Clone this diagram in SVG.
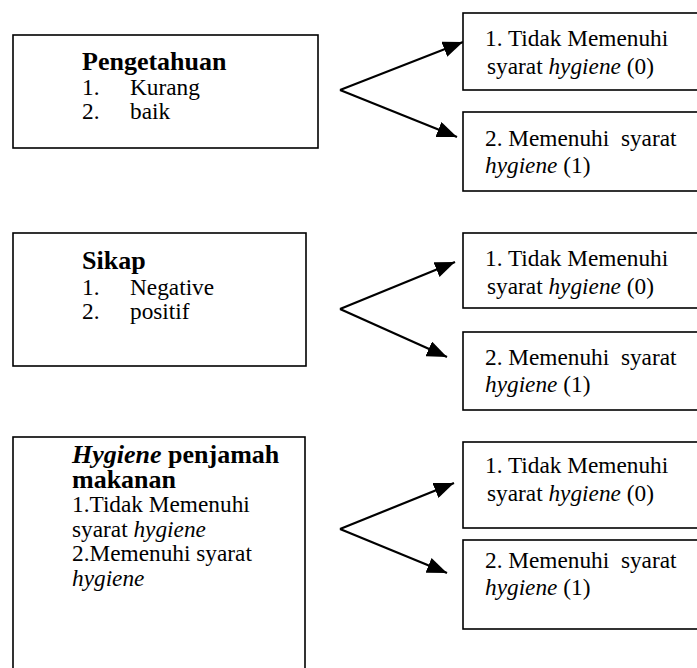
<svg xmlns="http://www.w3.org/2000/svg" width="697" height="668" viewBox="0 0 697 668">
<style>
.box{fill:#fff;stroke:#000;stroke-width:1.6}
.t{font-family:"Liberation Serif","Times New Roman",serif;font-size:23.3px;fill:#000}
.h{font-family:"Liberation Serif","Times New Roman",serif;font-size:26px;font-weight:bold;fill:#000}
.i{font-style:italic}
.c{stroke:#000;stroke-width:2.2;fill:none;marker-end:url(#ah)}
</style>
<defs>
<marker id="ah" markerUnits="userSpaceOnUse" markerWidth="20" markerHeight="16" refX="20" refY="8" orient="auto">
<path d="M0,0 L20,8 L0,16 z" fill="#000"/>
</marker>
</defs>
<rect width="697" height="668" fill="#fff"/>

<g id="connectors">
<line class="c" x1="340" y1="90" x2="463" y2="42"/>
<line class="c" x1="340" y1="90" x2="457" y2="137"/>
<line class="c" x1="340" y1="309" x2="455" y2="262"/>
<line class="c" x1="340" y1="309" x2="447" y2="357"/>
<line class="c" x1="340" y1="529" x2="454" y2="483"/>
<line class="c" x1="340" y1="529" x2="447" y2="573"/>
</g>

<g id="pengetahuan">
<rect class="box" x="13" y="35" width="305" height="113"/>
<text class="h" x="82" y="70">Pengetahuan</text>
<text class="t" x="82" y="95">1.</text><text class="t" x="130" y="95">Kurang</text>
<text class="t" x="82" y="119">2.</text><text class="t" x="130" y="119">baik</text>
</g>

<g id="sikap">
<rect class="box" x="13" y="233" width="293" height="133"/>
<text class="h" x="82" y="269">Sikap</text>
<text class="t" x="82" y="295">1.</text><text class="t" x="130" y="295">Negative</text>
<text class="t" x="82" y="319">2.</text><text class="t" x="130" y="319">positif</text>
</g>

<g id="hygiene">
<rect class="box" x="13" y="437" width="292" height="250"/>
<text class="h" x="72" y="463"><tspan class="i">Hygiene</tspan> penjamah</text>
<text class="h" x="72" y="488">makanan</text>
<text class="t" x="72" y="512">1.Tidak Memenuhi</text>
<text class="t" x="72" y="537">syarat <tspan class="i">hygiene</tspan></text>
<text class="t" x="72" y="561">2.Memenuhi syarat</text>
<text class="t" x="72" y="586"><tspan class="i">hygiene</tspan></text>
</g>

<g id="r1a">
<rect class="box" x="463" y="13" width="250" height="77"/>
<text class="t" x="485" y="46">1. Tidak Memenuhi</text>
<text class="t" x="487" y="74">syarat <tspan class="i">hygiene</tspan> (0)</text>
</g>
<g id="r1b">
<rect class="box" x="463" y="112" width="250" height="79"/>
<text class="t" x="485" y="146" xml:space="preserve">2. Memenuhi  syarat</text>
<text class="t" x="485" y="173"><tspan class="i">hygiene</tspan> (1)</text>
</g>

<g id="r2a">
<rect class="box" x="463" y="233" width="250" height="75"/>
<text class="t" x="485" y="266">1. Tidak Memenuhi</text>
<text class="t" x="487" y="294">syarat <tspan class="i">hygiene</tspan> (0)</text>
</g>
<g id="r2b">
<rect class="box" x="463" y="332" width="250" height="78"/>
<text class="t" x="485" y="365" xml:space="preserve">2. Memenuhi  syarat</text>
<text class="t" x="485" y="392"><tspan class="i">hygiene</tspan> (1)</text>
</g>

<g id="r3a">
<rect class="box" x="463" y="442" width="250" height="86"/>
<text class="t" x="485" y="473">1. Tidak Memenuhi</text>
<text class="t" x="487" y="501">syarat <tspan class="i">hygiene</tspan> (0)</text>
</g>
<g id="r3b">
<rect class="box" x="463" y="540" width="250" height="89"/>
<text class="t" x="485" y="568" xml:space="preserve">2. Memenuhi  syarat</text>
<text class="t" x="485" y="595"><tspan class="i">hygiene</tspan> (1)</text>
</g>
</svg>
